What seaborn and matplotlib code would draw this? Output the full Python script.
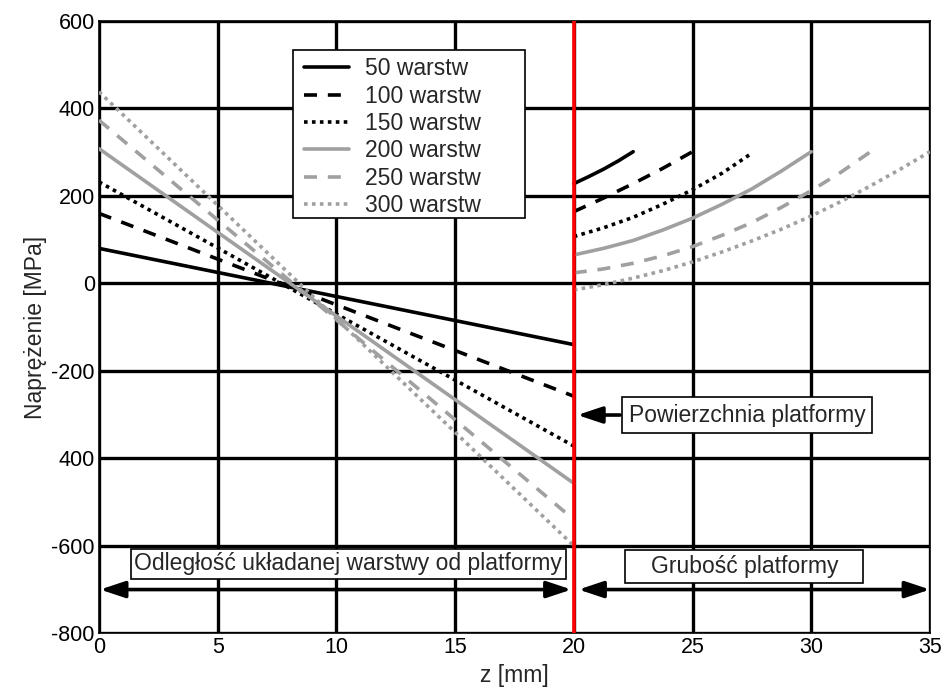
import matplotlib
matplotlib.use("Agg")
import matplotlib.pyplot as plt
from matplotlib.patches import Rectangle
import seaborn as sns
import numpy as np

sns.set_style("white")
plt.rcParams['font.family'] = ['Liberation Sans', 'DejaVu Sans']

# ---- data ----
labels = ["50 warstw", "100 warstw", "150 warstw", "200 warstw", "250 warstw", "300 warstw"]
# left part: stress vs distance of layer from platform (z = 0 .. 20)
z_left = [0, 20]
left_50 = [80, -140]
left_100 = [160, -258]
left_150 = [232, -372]
left_200 = [308, -457]
left_250 = [373, -540]
left_300 = [438, -600]
# right part: platform thickness (z >= 20)
z_50 = [20, 20.625, 21.25, 21.875, 22.5]
right_50 = [228, 244, 261, 280, 301]
z_100 = [20, 21.25, 22.5, 23.75, 25]
right_100 = [164, 195, 228, 263, 301]
z_150 = [20, 21.25, 22.5, 23.75, 25, 26.25, 27.4]
right_150 = [107, 127, 151, 181, 214, 252, 294]
z_200 = [20, 21.25, 22.5, 23.75, 25, 26.25, 27.5, 28.75, 30]
right_200 = [65, 80, 98, 122, 149, 181, 216, 257, 301]
z_250 = [20, 21.25, 22.5, 23.75, 25, 26.25, 27.5, 28.75, 30, 31.25, 32.5]
right_250 = [24, 33, 46, 63, 84, 110, 139, 174, 212, 254, 301]
z_300 = [20, 21.25, 22.5, 23.75, 25, 26.25, 27.5, 28.75, 30, 31.25, 32.5, 33.75, 35]
right_300 = [-15, -3, 12, 29, 49, 72, 97, 124, 154, 187, 223, 261, 301]

x_ticks = [0, 5, 10, 15, 20, 25, 30, 35]
y_ticks = [600, 400, 200, 0, -200, -400, -600, -800]
y_ticklabels = ["600", "400", "200", "0", "-200", "400", "-600", "-800"]

left_vals = [left_50, left_100, left_150, left_200, left_250, left_300]
right_z = [z_50, z_100, z_150, z_200, z_250, z_300]
right_vals = [right_50, right_100, right_150, right_200, right_250, right_300]

gray = "#a0a0a0"
styles = [
    dict(color="black", linestyle="-"),
    dict(color="black", dashes=(3.6, 3.0)),
    dict(color="black", dashes=(1, 1.2)),
    dict(color=gray, linestyle="-"),
    dict(color=gray, dashes=(3.6, 3.0)),
    dict(color=gray, dashes=(1, 1.2)),
]
LW = 2.6
FS = 16.5

fig = plt.figure(figsize=(9.47, 6.97), dpi=100)
ax = fig.add_axes([0.1045, 0.0914, 0.8775, 0.8786])

for lab, lv, rz, rv, st in zip(labels, left_vals, right_z, right_vals, styles):
    sns.lineplot(x=z_left, y=lv, ax=ax, label=lab, linewidth=LW, zorder=3, **st)
    sns.lineplot(x=rz, y=rv, ax=ax, legend=False, linewidth=LW, zorder=3, **st)

ax.set_xlim(0, 35)
ax.set_ylim(-800, 600)
ax.set_xticks(x_ticks)
ax.set_yticks(y_ticks)
ax.set_yticklabels(y_ticklabels)
ax.tick_params(axis='both', labelsize=15.5, length=0, pad=3, colors='black')
ax.grid(True, color='black', linewidth=2.4, zorder=1)
ax.set_axisbelow(True)
for sp in ax.spines.values():
    sp.set_color('black')
    sp.set_linewidth(1.2)

ax.set_xlabel("z [mm]", fontsize=FS, labelpad=4)
ax.set_ylabel("Naprężenie [MPa]", fontsize=FS, labelpad=3)

# red platform surface line
ax.axvline(20, color='red', linewidth=2.6, zorder=4)

arrow2 = dict(arrowstyle='<|-|>,head_length=1.5,head_width=0.5', color='black', lw=2.6,
              shrinkA=0, shrinkB=0)
arrow1 = dict(arrowstyle='-|>,head_length=1.5,head_width=0.5', color='black', lw=2.6,
              shrinkA=0, shrinkB=0)

ax.annotate("", xy=(0.05, -700), xytext=(19.9, -700), arrowprops=arrow2, zorder=5)
ax.annotate("", xy=(20.2, -700), xytext=(35, -700), arrowprops=arrow2, zorder=5)
ax.text(10.5, -641, "Odległość układanej warstwy od platformy", fontsize=FS,
        ha='center', va='center', zorder=6,
        bbox=dict(boxstyle='square,pad=0.15', facecolor='white', edgecolor='black',
                  linewidth=1.2))
# box for "Grubość platformy" (wider frame than the text)
ax.add_patch(Rectangle((22.16, -684), 10.02, 75, facecolor='white', edgecolor='black',
                       linewidth=1.2, zorder=5.5))
ax.text(27.2, -647, "Grubość platformy", fontsize=FS, ha='center', va='center', zorder=6)
ax.annotate("", xy=(20.15, -301), xytext=(21.95, -301), arrowprops=arrow1, zorder=5)
ax.text(27.3, -301, "Powierzchnia platformy", fontsize=FS, ha='center', va='center',
        zorder=6, bbox=dict(boxstyle='square,pad=0.3', facecolor='white',
                            edgecolor='black', linewidth=1.2))

# legend: invisible legend frame, explicit outer box
ax.add_patch(Rectangle((0.2335, 0.678), 0.279, 0.274, transform=ax.transAxes,
                       facecolor='white', edgecolor='black', linewidth=1.2, zorder=6.5))
leg = ax.legend(loc='upper left', bbox_to_anchor=(0.238, 0.952), borderaxespad=0,
                fontsize=FS, frameon=False,
                handlelength=2.0, handletextpad=0.7, labelspacing=0.19,
                borderpad=0.3)
leg.set_zorder(7)

fig.savefig("out.png", dpi=100)
